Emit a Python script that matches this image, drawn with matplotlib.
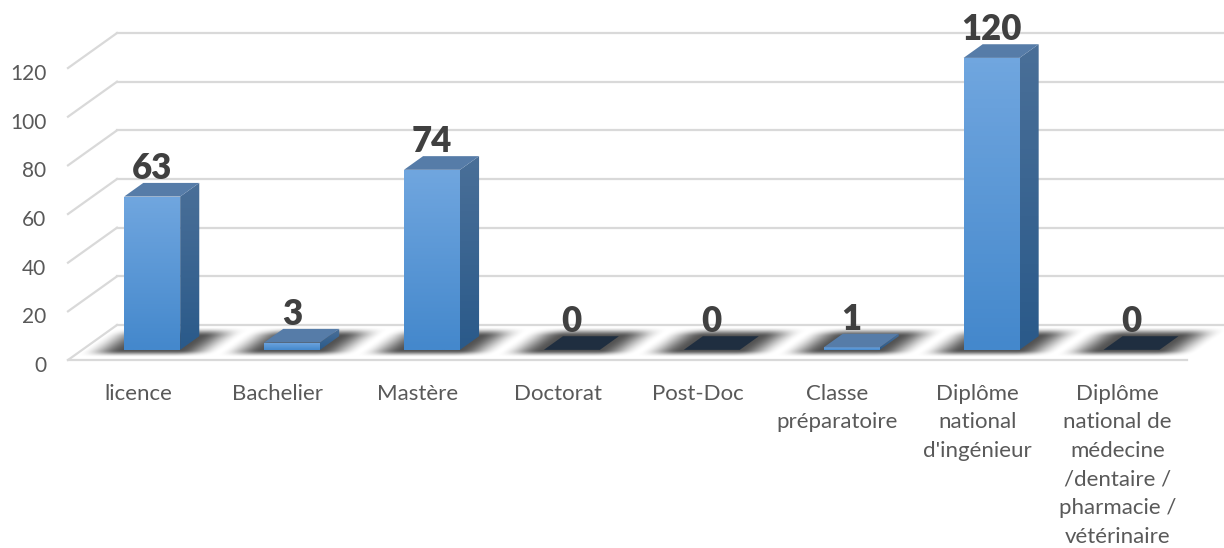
# ---------- 3D look bar chart, drawn by hand on flat axes ----------

import numpy as np
import matplotlib
matplotlib.use("Agg")
import matplotlib.pyplot as plt
from matplotlib.colors import LinearSegmentedColormap
from matplotlib.patches import Polygon
from matplotlib.transforms import ScaledTranslation

# ---------- Data ----------

categories = ["licence", "Bachelier", "Mastère", "Doctorat", "Post-Doc",
              "Classe\npréparatoire", "Diplôme\nnational\nd'ingénieur",
              "Diplôme\nnational de\nmédecine\n/dentaire /\npharmacie /\nvétérinaire"]
values = [63, 3, 74, 0, 0, 1, 120, 0]
y_ticks = [0, 20, 40, 60, 80, 100, 120]

# ---------- Figure + axes ----------

W, H = 1224, 548
plt.rcParams["font.family"] = ["Lato", "DejaVu Sans"]

fig = plt.figure(figsize=(W / 100, H / 100), dpi=100)
LEFT, FLOOR_Y, CAT_W, PX_PER_UNIT = 68, 360, 139.9, 2.433
ax = fig.add_axes([LEFT / W, (H - FLOOR_Y) / H, (W - LEFT) / W, FLOOR_Y / H])
X_MIN, X_MAX = -0.5, -0.5 + (W - LEFT) / CAT_W
Y_MAX = FLOOR_Y / PX_PER_UNIT

# depth of the floor, as data units
DEPTH_X = 49 / CAT_W
DEPTH_Y = 35 / PX_PER_UNIT
BAR_HALF = 28 / CAT_W
BAR_D0, BAR_D1 = 0.29, 0.68


def project(cat, val, depth):
    return cat + DEPTH_X * depth, val + DEPTH_Y * depth


def gradient_face(points, top_color, bottom_color, zorder):
    # vertical gradient clipped to a polygon
    xs = [p[0] for p in points]
    ys = [p[1] for p in points]
    cmap = LinearSegmentedColormap.from_list("face", [bottom_color, top_color])
    grad = np.linspace(1, 0, 64).reshape(-1, 1)
    im = ax.imshow(grad, extent=[min(xs), max(xs), min(ys), max(ys)], cmap=cmap,
                   vmin=0, vmax=1, aspect="auto", zorder=zorder)
    clip = Polygon(points, closed=True, transform=ax.transData, fc="none", ec="none")
    ax.add_patch(clip)
    im.set_clip_path(clip)


def smooth(v):
    v = np.clip(v, 0, 1)
    return v * v * (3 - 2 * v)


# ---------- Grid lines ----------

GRID = "#D9D9D9"
for t in y_ticks:
    back = project(-0.5, t, 1)
    ax.plot([-0.5, back[0]], [t, back[1]], color=GRID, lw=1.6, zorder=1, clip_on=False)
    ax.plot([back[0], X_MAX], [back[1], back[1]], color=GRID, lw=1.6, zorder=1)
ax.plot([-0.5, 7.5], [0, 0], color=GRID, lw=1.6, zorder=1, clip_on=False)

# ---------- Floor shadows ----------

grid_x = np.linspace(X_MIN, X_MAX, 1100)
grid_y = np.linspace(0, DEPTH_Y, 120)
gx, gy = np.meshgrid(grid_x, grid_y)
depth = gy / DEPTH_Y
alpha = np.zeros_like(gx)
for i in range(len(categories)):
    u = np.abs((gx - i - DEPTH_X * depth) * CAT_W - 0) - 28
    a = smooth((42 - u) / 42) * smooth((depth - 0.08) / 0.2) * smooth((0.95 - depth) / 0.27)
    alpha = np.maximum(alpha, a)
rgba = np.zeros(gx.shape + (4,))
rgba[..., 3] = alpha * 0.68
ax.imshow(rgba, extent=[X_MIN, X_MAX, 0, DEPTH_Y], origin="lower", aspect="auto", zorder=2)

# ---------- Bars ----------

for i, v in enumerate(values):
    fl = project(i - BAR_HALF, 0, BAR_D0)
    fr = project(i + BAR_HALF, 0, BAR_D0)
    br = project(i + BAR_HALF, 0, BAR_D1)
    fl_t = project(i - BAR_HALF, v, BAR_D0)
    fr_t = project(i + BAR_HALF, v, BAR_D0)
    br_t = project(i + BAR_HALF, v, BAR_D1)
    bl_t = project(i - BAR_HALF, v, BAR_D1)

    if v > 0:
        gradient_face([fl, fr, fr_t, fl_t], "#70A6DF", "#4488CC", 3)
        gradient_face([fr, br, br_t, fr_t], "#4A6F98", "#2A5A8A", 3)
        top = "#567CA8"
    else:
        top = "#1F2E40"
    ax.add_patch(Polygon([fl_t, fr_t, br_t, bl_t], closed=True, fc=top, ec="none", zorder=4))

    ax.annotate(str(v), xy=(fl[0] + BAR_HALF, bl_t[1]), xytext=(0, 10.4),
                textcoords="offset points", ha="center", va="center",
                fontsize=25, fontweight="heavy", color="#404040", zorder=5)

# ---------- Axes, ticks ----------

ax.set_xlim(X_MIN, X_MAX)
ax.set_ylim(0, Y_MAX)
ax.set_xticks(range(len(categories)))
ax.set_xticklabels(categories, linespacing=1.54)
ax.set_yticks(y_ticks)
ax.tick_params(axis="x", length=0, pad=17, labelsize=16, labelcolor="#595959")
ax.tick_params(axis="y", length=0, pad=15.5, labelsize=15, labelcolor="#595959")
# y labels sit a little below their grid line in the original
shift = ScaledTranslation(0, -4 / 100, fig.dpi_scale_trans)
for lab in ax.get_yticklabels():
    lab.set_transform(lab.get_transform() + shift)
for side in ax.spines.values():
    side.set_visible(False)
ax.patch.set_alpha(0)

fig.savefig("out.png", dpi=100)
